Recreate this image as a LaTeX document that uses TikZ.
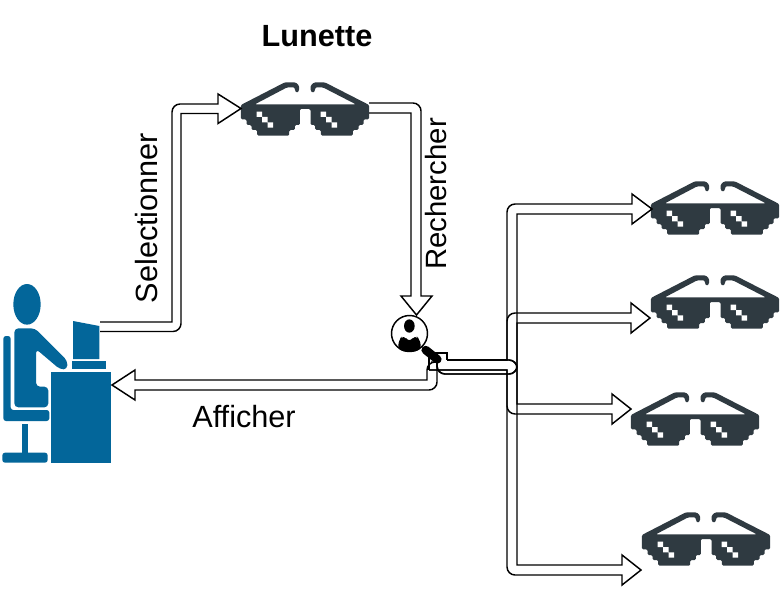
\documentclass[tikz,border=0pt]{standalone}
\usepackage{fontspec}
\setmainfont{Liberation Sans}
\usetikzlibrary{calc}
\definecolor{lens}{HTML}{2F3A41}
\definecolor{userblue}{HTML}{03669A}
\tikzset{
  wire/.style={draw=black,line width=1.1pt,line join=miter},
  anchorbox/.style={inner sep=0pt,outer sep=0pt,minimum width=#1},
  lbl/.style={font=\fontsize{23}{26}\selectfont,inner sep=0pt},
  pics/lunette/.style={code={
    \begin{scope}[x=0.25pt,y=-0.25pt,shift={(-225.5,-117)}]
      \fill[lens,rounded corners=1pt] (33,105) -- (165,37) -- (197,37) -- (208,47) -- (208,62) -- (201,69) -- (195,62) -- (195,52) -- (172,52) -- (75,103) -- (378,103) -- (279,52) -- (256,52) -- (256,62) -- (249,69) -- (242,62) -- (242,47) -- (253,37) -- (285,37) -- (418,105) -- (418,148) -- (401,148) -- (401,165) -- (386,165) -- (386,180) -- (369,180) -- (369,197) -- (273,197) -- (273,180) -- (256,180) -- (256,165) -- (242,165) -- (242,117) -- (210,117) -- (210,165) -- (195,165) -- (195,180) -- (178,180) -- (178,197) -- (82,197) -- (82,180) -- (65,180) -- (65,165) -- (50,165) -- (50,148) -- (33,148) -- cycle;
      \fill[white] (80,125) rectangle (97,141) (97,141) rectangle (113,157) (113,157) rectangle (130,173);
      \fill[white] (272,125) rectangle (289,141) (289,141) rectangle (305,157) (305,157) rectangle (322,173);
    \end{scope}}},
}
\def\rc{[rounded corners=6pt]}
\def\sc{[sharp corners]}
\begin{document}
\begin{tikzpicture}[x=0.75pt,y=-0.75pt]
\useasboundingbox (0,0) rectangle (780,602);
\fill[white] (0,0) rectangle (780,602);
% glasses
\node[anchorbox=96pt,minimum height=40pt] (g0) at (305,109) {};
\node[anchorbox=96pt,minimum height=40pt] (g1) at (715,208) {};
\node[anchorbox=96pt,minimum height=40pt] (g2) at (715,302) {};
\node[anchorbox=96pt,minimum height=40pt] (g3) at (695,419) {};
\node[anchorbox=96pt,minimum height=40pt] (g4) at (706,539) {};
\foreach \g in {g0,g1,g2,g3,g4} \pic at (\g) {lunette};
% user
\node[anchorbox=82pt,minimum height=135pt] (user) at (55,375) {};
\begin{scope}[x=0.25pt,y=-0.25pt,shift={(0,810)}]
  \fill[userblue] (81,103) ellipse (41 and 61);
  \fill[userblue,rounded corners=3pt] (43,412) -- (43,175) -- (105,175) -- (202,272) -- (202,298) -- (180,298) -- (108,237) -- (108,350) -- (145,350) -- (145,412) -- cycle;
  \fill[userblue,rounded corners=2pt] (10,198) -- (32,198) -- (32,420) -- (148,420) -- (148,453) -- (10,453) -- cycle;
  \fill[userblue] (65,463) rectangle (85,550);
  \fill[userblue,rounded corners=2pt] (7,548) rectangle (143,578);
  \fill[userblue] (219,153) -- (298,168) -- (298,267) -- (219,267) -- cycle;
  \fill[userblue] (216,272) rectangle (319,298);
  \fill[userblue] (153,307) rectangle (332,578);
\end{scope}
% search icon
\node[circle,draw=black,line width=1.1pt,minimum size=27pt,inner sep=0pt] (search) at (409.5,333.5) {};
% anchor points of the connectors
\coordinate (uOut) at (100,322);
\coordinate (gIn) at (241,108.5);
\coordinate (gOut) at (369,103);
\coordinate (sIn) at (416.5,315);
\coordinate (sOutUp) at (447,360);
\coordinate (sOutLow) at (437,362);
\coordinate (sBox) at (429,370);
\coordinate (aff) at (431,362);
\coordinate (uIn) at (112,385);
\coordinate (t1) at (652,209);
\coordinate (t2) at (650,318);
\coordinate (t3) at (631,409);
\coordinate (t4) at (641,570);
% Selectionner
\draw[wire] (uOut) -- ++(72,0) \rc -- ++(0,-218) \sc -- ++(46,0) -- ++(0,-10) -- (gIn) -- ++(-23,15) -- ++(0,-10) -- ++(-37,0) \rc -- ++(0,218) -- ++(-81,0);
% Rechercher
\draw[wire] (gOut) \rc -- ++(52,0) \sc -- ++(0,193) -- ++(11,0) -- (sIn) -- ++(-15.5,-19) -- ++(10,0) -- ++(0,-183) -- ++(-42,0);
% Afficher
\draw[wire] (aff) \rc -- ++(-4,0) \sc -- ++(0,18) -- ++(-292,0) -- ++(0,-10) -- (uIn) -- ++(23,15) -- ++(0,-10) \rc -- ++(302,0) -- ++(0,-28);
% small square at the search icon
\draw[wire] (sBox) -- ++(0,-17) -- ++(18,0) -- (sOutUp);
% upper branches
\draw[wire] (sOutUp) -- ++(60,0) \rc -- ++(0,-156) \sc -- ++(125,0) -- ++(0,-10) -- (t1) -- ++(-20,15) -- ++(0,-10) -- ++(-115,0) \rc -- ++(0,160) -- ++(-80,0) -- (sOutLow);
\draw[wire] (sOutUp) -- ++(60,0) \rc -- ++(0,-47) \sc -- ++(124,0) -- ++(0,-10) -- (t2) -- ++(-19,15) -- ++(0,-10) -- ++(-114,0) \rc -- ++(0,51) -- ++(-80,0) -- (sOutLow);
% lower branches
\draw[wire] (sOutUp) \rc -- ++(70,0) \sc -- ++(0,44) -- ++(95,0) -- ++(0,-10) -- (t3) -- ++(-19,15) -- ++(0,-10) \rc -- ++(-105,0) \sc -- ++(0,-44) -- (sBox);
\draw[wire] (sOutUp) \rc -- ++(70,0) \sc -- ++(0,205) -- ++(105,0) -- ++(0,-10) -- (t4) -- ++(-19,15) -- ++(0,-10) \rc -- ++(-115,0) \sc -- ++(0,-205) -- (sBox);
% icon inside, handle above the wires
\begin{scope}[x=0.25pt,y=-0.25pt,shift={(1140,870)}]
  \fill[black] (88,108) ellipse (16 and 20);
  \fill[black,rounded corners=4pt] (55,184) -- (55,150) -- (72,134) -- (88,158) -- (104,134) -- (122,150) -- (122,184) -- cycle;
  \draw[black,line width=6.4pt,line cap=round] (137,180) -- (172,208);
\end{scope}
% labels
\node[lbl,font=\fontsize{23}{26}\selectfont\bfseries] (title) at (317,36) {Lunette};
\node[lbl,rotate=90] (sel) at (147,218) {Selectionner};
\node[lbl,rotate=90,font=\fontsize{22}{26}\selectfont] (rech) at (436,194) {Rechercher};
\node[lbl] (aff-l) at (244,417) {Afficher};
\end{tikzpicture}
\end{document}
